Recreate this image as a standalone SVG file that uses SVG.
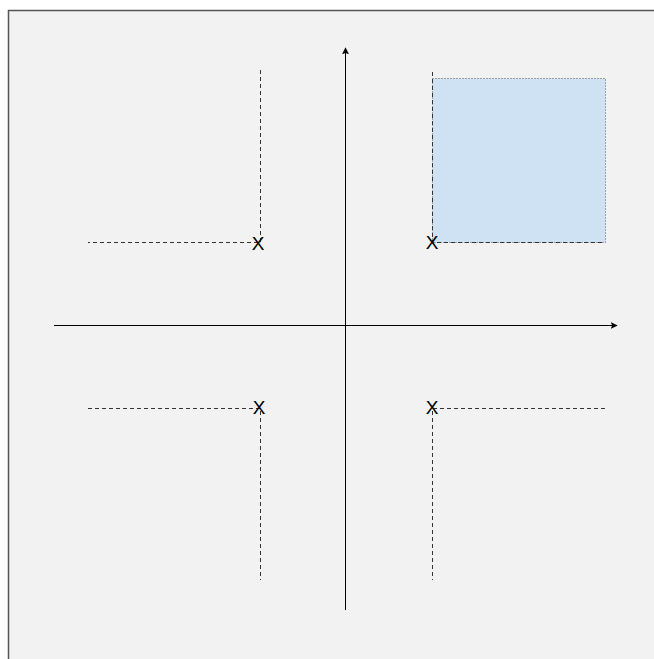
<svg xmlns="http://www.w3.org/2000/svg" width="654" height="659" viewBox="0 0 654 659">
<defs>
<marker id="arr" viewBox="0 0 10 10" refX="9" refY="5" markerWidth="7" markerHeight="7" markerUnits="userSpaceOnUse" orient="auto">
<path d="M0,0 L10,5 L0,10 L2,5 Z" fill="#000"/>
</marker>
</defs>
<style>
.axis{stroke:#000;stroke-width:1;fill:none}
.dash{stroke:#333;stroke-width:1;stroke-dasharray:4 3;fill:none}
.lbl{font-family:"Liberation Sans",Arial,sans-serif;font-size:19px;fill:#000;text-anchor:middle}
</style>
<rect x="8.5" y="10.5" width="660" height="660" fill="#f2f2f2" stroke="#555" stroke-width="1.5"/>
<g id="area">
<rect x="432.5" y="78.5" width="173" height="164" fill="#cfe2f3" stroke="#555" stroke-width="1" stroke-dasharray="1 2"/>
</g>
<g id="connectors">
<line class="axis" x1="345.5" y1="610" x2="345.5" y2="48" marker-end="url(#arr)"/>
<line class="axis" x1="54" y1="325.5" x2="617" y2="325.5" marker-end="url(#arr)"/>
<path class="dash" d="M260.5,70 V242.5 H88"/>
<path class="dash" d="M432.5,72 V242.5 H605"/>
<path class="dash" d="M88,408.5 H260.5 V580"/>
<path class="dash" d="M605,408.5 H432.5 V580"/>
</g>
<g id="p1"><text class="lbl" x="258" y="249.5">X</text></g>
<g id="p2"><text class="lbl" x="432" y="248.5">X</text></g>
<g id="p3"><text class="lbl" x="259" y="413.5">X</text></g>
<g id="p4"><text class="lbl" x="432" y="413.5">X</text></g>
</svg>
